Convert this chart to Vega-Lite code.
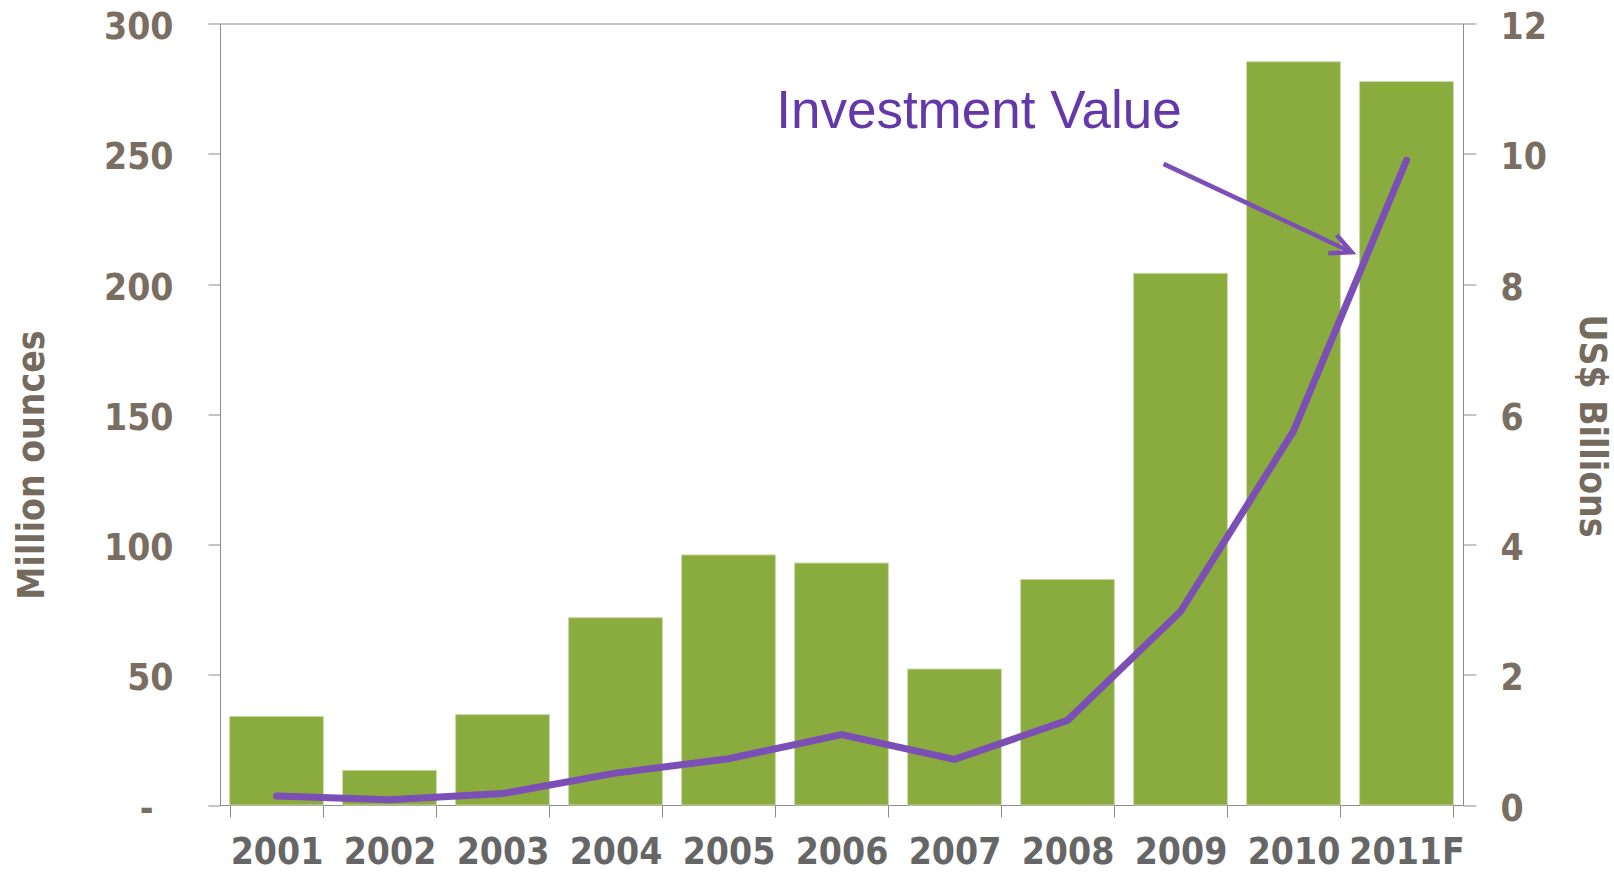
{
  "$schema": "https://vega.github.io/schema/vega-lite/v6.json",
  "width": 1243,
  "height": 781.5,
  "autosize": {"type": "none"},
  "padding": {"left": 220, "top": 23.5, "right": 151, "bottom": 67},
  "background": "white",
  "config": {
    "view": {"stroke": "#8c8c8c", "strokeWidth": 1},
    "axis": {"grid": false}
  },
  "datasets": {
    "main": [
      {"year": "2001", "ounces": 34.0, "value": 0.14},
      {"year": "2002", "ounces": 13.3, "value": 0.08},
      {"year": "2003", "ounces": 34.7, "value": 0.175},
      {"year": "2004", "ounces": 71.9, "value": 0.49},
      {"year": "2005", "ounces": 96.0, "value": 0.71},
      {"year": "2006", "ounces": 92.9, "value": 1.08},
      {"year": "2007", "ounces": 52.2, "value": 0.70},
      {"year": "2008", "ounces": 86.6, "value": 1.30},
      {"year": "2009", "ounces": 204.1, "value": 2.97},
      {"year": "2010", "ounces": 285.3, "value": 5.74},
      {"year": "2011F", "ounces": 277.7, "value": 9.90}
    ],
    "note": [{"year": "2007", "ounces": 260, "label": "Investment Value"}],
    "arrow": [
      {"seg": "shaft", "ord": 0, "ax": 8.35, "ay": 246.1},
      {"seg": "shaft", "ord": 1, "ax": 10.015, "ay": 212.2},
      {"seg": "head", "ord": 0, "ax": 9.882, "ay": 218.8},
      {"seg": "head", "ord": 1, "ax": 10.015, "ay": 212.2},
      {"seg": "head", "ord": 2, "ax": 9.808, "ay": 211.8}
    ]
  },
  "layer": [
    {
      "data": {"name": "main"},
      "mark": {"type": "bar", "color": "#8aab3e", "stroke": "#c9d8a6", "strokeWidth": 1},
      "encoding": {
        "x": {
          "field": "year", "type": "ordinal", "sort": null,
          "scale": {"type": "band", "paddingInner": 0.17, "paddingOuter": 0.085},
          "axis": {
            "title": null, "labelAngle": 0, "domainColor": "#8c8c8c", "tickColor": "#8c8c8c",
            "tickSize": 12, "tickBand": "extent", "labelFont": "DejaVu Sans Condensed",
            "labelFontWeight": "bold", "labelFontSize": 37, "labelColor": "#666666", "labelPadding": 17
          }
        },
        "y": {
          "field": "ounces", "type": "quantitative",
          "scale": {"domain": [0, 300], "nice": false},
          "axis": {
            "orient": "left", "values": [0, 50, 100, 150, 200, 250, 300],
            "labelExpr": "datum.value === 0 ? '-' : datum.label",
            "domainColor": "#8c8c8c", "tickColor": "#8c8c8c", "tickSize": 12,
            "labelPadding": {"condition": {"test": "datum.value === 0", "value": 55}, "value": 35},
            "labelOffset": 4,
            "labelFont": "DejaVu Sans Condensed", "labelFontWeight": "bold", "labelFontSize": 37,
            "labelColor": "#7a6e62",
            "title": "Million ounces", "titleFont": "DejaVu Sans Condensed", "titleFontWeight": "bold",
            "titleFontSize": 37, "titleColor": "#756a5e", "titleAngle": 270, "titleBaseline": "middle",
            "titleAlign": "center", "titleX": -188, "titleY": 441
          }
        }
      }
    },
    {
      "data": {"name": "main"},
      "mark": {"type": "line", "color": "#7b4fb6", "strokeWidth": 7, "strokeCap": "round", "strokeJoin": "miter"},
      "encoding": {
        "x": {"field": "year", "type": "ordinal", "sort": null, "scale": {"type": "point", "padding": 0.5}, "axis": null},
        "y": {
          "field": "value", "type": "quantitative",
          "scale": {"domain": [0, 12], "nice": false},
          "axis": {
            "orient": "right", "values": [0, 2, 4, 6, 8, 10, 12],
            "domainColor": "#8c8c8c", "tickColor": "#8c8c8c", "tickSize": 13, "labelPadding": 24,
            "labelOffset": 4,
            "labelFont": "DejaVu Sans Condensed", "labelFontWeight": "bold", "labelFontSize": 37,
            "labelColor": "#7a6e62",
            "title": "US$ Billions", "titleFont": "DejaVu Sans Condensed", "titleFontWeight": "bold",
            "titleFontSize": 37, "titleColor": "#756a5e", "titleAngle": 90, "titleBaseline": "middle",
            "titleAlign": "center", "titleX": 127, "titleY": 402
          }
        }
      }
    },
    {
      "data": {"name": "note"},
      "mark": {"type": "text", "font": "Liberation Sans", "fontSize": 53, "color": "#6438a8", "align": "center", "baseline": "alphabetic", "dx": 24.5},
      "encoding": {
        "x": {"field": "year", "type": "ordinal", "scale": {"type": "point", "domain": ["2001","2002","2003","2004","2005","2006","2007","2008","2009","2010","2011F"], "padding": 0.5}, "axis": null},
        "y": {"field": "ounces", "type": "quantitative", "scale": {"domain": [0, 300], "nice": false}, "axis": null},
        "text": {"field": "label"}
      }
    },
    {
      "data": {"name": "arrow"},
      "mark": {"type": "line", "color": "#7b4fb6", "strokeWidth": 4.5, "strokeCap": "butt", "strokeJoin": "miter"},
      "encoding": {
        "x": {"field": "ax", "type": "quantitative", "scale": {"domain": [0, 11], "nice": false, "zero": false}, "axis": null},
        "y": {"field": "ay", "type": "quantitative", "scale": {"domain": [0, 300], "nice": false}, "axis": null},
        "detail": {"field": "seg"},
        "order": {"field": "ord"}
      }
    }
  ],
  "resolve": {"scale": {"x": "independent", "y": "independent"}}
}
